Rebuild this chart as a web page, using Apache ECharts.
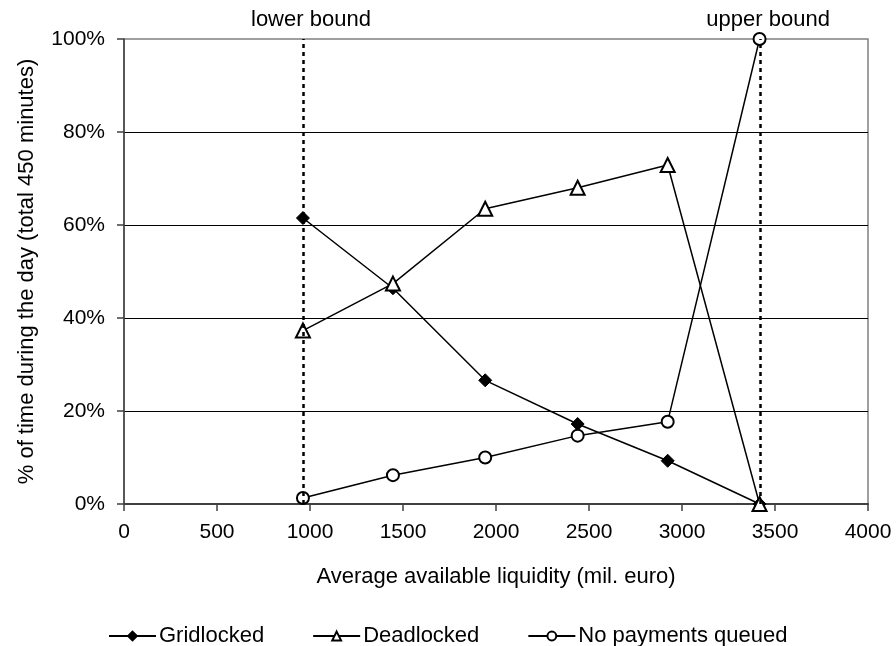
<!DOCTYPE html>
<html>
<head>
<meta charset="utf-8">
<script src="https://cdn.jsdelivr.net/npm/echarts@6/dist/echarts.min.js"></script>
<style>
html,body{margin:0;padding:0;background:#fff;}
#chart{width:896px;height:646px;}
</style>
</head>
<body>
<div id="chart"></div>
<script>
var liquidity = [962, 1446, 1942, 2439, 2923, 3417];
var gridlocked = [61.5, 46.4, 26.6, 17.2, 9.3, 0];
var deadlocked = [37.3, 47.4, 63.5, 68.0, 72.9, 0];
var noQueue = [1.3, 6.2, 10.0, 14.7, 17.7, 100];
var bounds = [962, 3420];
var boundLabels = ['lower bound', 'upper bound'];
var seriesNames = ['Gridlocked', 'Deadlocked', 'No payments queued'];

function pairs(ys){ return liquidity.map(function(x,i){ return [x, ys[i]]; }); }

var FONT = '"Liberation Sans", Arial, sans-serif';
var chart = echarts.init(document.getElementById('chart'), null, {renderer:'canvas'});

var lineStyle = {color:'#000', width:1.5};
var option = {
  animation:false,
  backgroundColor:'#fff',
  textStyle:{fontFamily:FONT, color:'#000'},
  grid:{left:124, right:28, top:39, bottom:142, show:true, borderColor:'#808080', borderWidth:1.5, backgroundColor:'transparent'},
  legend:{
    left:103, top:620, itemWidth:47, itemHeight:11, itemGap:48,
    textStyle:{fontFamily:FONT, fontSize:22, color:'#000', padding:[0,0,0,-2]},
    data:seriesNames
  },
  xAxis:{
    type:'value', min:0, max:4000, interval:500,
    name:'Average available liquidity (mil. euro)', nameLocation:'middle', nameGap:62,
    nameTextStyle:{fontFamily:FONT, fontSize:22, color:'#000'},
    axisLine:{show:true, onZero:false, lineStyle:{color:'#404040', width:2}},
    axisTick:{show:true, length:7, lineStyle:{color:'#404040', width:1.5}},
    axisLabel:{fontFamily:FONT, fontSize:21, color:'#000', margin:18, formatter:function(v){ return String(v); }},
    splitLine:{show:false}
  },
  yAxis:{
    type:'value', min:0, max:100, interval:20,
    name:'% of time during the day (total 450 minutes)', nameLocation:'middle', nameGap:86,
    nameTextStyle:{fontFamily:FONT, fontSize:22, color:'#000'},
    axisLine:{show:true, lineStyle:{color:'#404040', width:1.5}},
    axisTick:{show:true, length:7, lineStyle:{color:'#404040', width:1.5}},
    axisLabel:{fontFamily:FONT, fontSize:21, color:'#000', margin:19, formatter:'{value}%'},
    splitLine:{show:true, showMinLine:false, showMaxLine:false, lineStyle:{color:'#000', width:1}}
  },
  series:[
    {
      name:seriesNames[0], type:'line', data:pairs(gridlocked),
      symbol:'diamond', symbolSize:13, showAllSymbol:true,
      lineStyle:lineStyle, itemStyle:{color:'#000', borderColor:'#000', borderWidth:1},
      z:3,
      markLine:{
        silent:true, symbol:['none','none'],
        lineStyle:{color:'#000', type:[4,4], width:2.5},
        label:{show:true, position:'end', distance:8, offset:[8,0], fontFamily:FONT, fontSize:22, color:'#000',
               formatter:function(p){ return p.name; }},
        data:bounds.map(function(b,i){
          return [{coord:[b,0], name:boundLabels[i]},{coord:[b,100]}];
        })
      }
    },
    {
      name:seriesNames[1], type:'line', data:pairs(deadlocked),
      symbol:'triangle', symbolSize:14, showAllSymbol:true,
      lineStyle:lineStyle, itemStyle:{color:'#fff', borderColor:'#000', borderWidth:2},
      z:4
    },
    {
      name:seriesNames[2], type:'line', data:pairs(noQueue),
      symbol:'circle', symbolSize:12, showAllSymbol:true,
      lineStyle:lineStyle, itemStyle:{color:'#fff', borderColor:'#000', borderWidth:2},
      z:4
    }
  ]
};
chart.setOption(option);
</script>
</body>
</html>
